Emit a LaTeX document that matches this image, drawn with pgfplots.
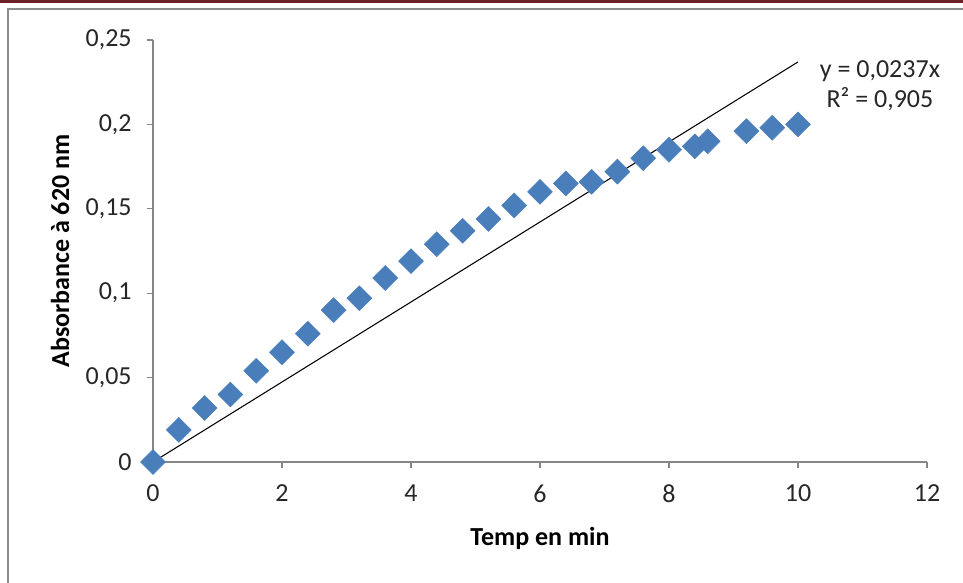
\documentclass[border=0pt]{standalone}
\usepackage{fontspec}
\setmainfont{Carlito}
\usepackage{pgfplots}
\pgfplotsset{compat=1.18}
\usepackage{pgfplotstable}

\definecolor{markblue}{HTML}{4A7EBB}
\definecolor{axgray}{HTML}{868686}
\definecolor{framegray}{HTML}{8C8C8C}
\definecolor{topred}{HTML}{6B2125}
\definecolor{txt}{HTML}{262626}

\newcommand{\chartfont}{\fontsize{19.5pt}{23pt}\selectfont}

\pgfplotstableread{
t    A
0    0
0.4  0.019
0.8  0.032
1.2  0.040
1.6  0.054
2.0  0.065
2.4  0.076
2.8  0.090
3.2  0.097
3.6  0.109
4.0  0.119
4.4  0.129
4.8  0.137
5.2  0.144
5.6  0.152
6.0  0.160
6.4  0.165
6.8  0.166
7.2  0.172
7.6  0.180
8.0  0.185
8.4  0.187
8.6  0.190
9.2  0.196
9.6  0.198
10.0 0.200
}\absdata

\begin{document}
\begin{tikzpicture}
% page size and frame
\path[use as bounding box] (-114.75pt,-90pt) rectangle (607.5pt,346.5pt);
\fill[topred] (-114.75pt,344.25pt) rectangle (607.5pt,346.5pt);
\draw[framegray, line width=2pt] (-108.75pt,-95pt) -- (-108.75pt,339.75pt) -- (615pt,339.75pt);

\begin{axis}[
  scale only axis,
  width=580.5pt, height=316.5pt,
  xmin=0, xmax=12, ymin=0, ymax=0.25,
  axis x line*=bottom, axis y line*=left,
  axis line style={axgray, line width=0.9pt, -},
  xtick={0,2,...,12},
  ytick={0,0.05,0.1,0.15,0.2,0.25},
  yticklabels={0,{0,05},{0,1},{0,15},{0,2},{0,25}},
  tick align=outside,
  major tick length=4.5pt,
  tick style={axgray, line width=0.9pt},
  /pgf/number format/assume math mode=true,
  tick label style={font=\chartfont, text=txt},
  yticklabel style={xshift=-8pt},
  xticklabel style={yshift=-9pt},
  xlabel={\textbf{Temp en min}},
  ylabel={\textbf{Absorbance à 620 nm}},
  every axis x label/.style={at={(axis description cs:0.5,0)}, anchor=center, yshift=-57pt, font=\chartfont, text=black},
  every axis y label/.style={at={(axis description cs:0,0.5)}, xshift=-69.75pt, rotate=90, anchor=center, font=\chartfont, text=black},
  clip=false,
]
\addplot[black, line width=0.8pt] coordinates {(0,0) (10,0.237)};
\addplot[only marks, mark=square*, mark size=6.6pt,
  mark options={rotate=45, fill=markblue, draw=markblue}] table[x=t, y=A] {\absdata};
\node[font=\chartfont, text=txt, align=center, inner sep=0pt] at (axis cs:11.27,0.223)
  {y = 0,0237x\\R² = 0,905};
\end{axis}
\end{tikzpicture}
\end{document}
